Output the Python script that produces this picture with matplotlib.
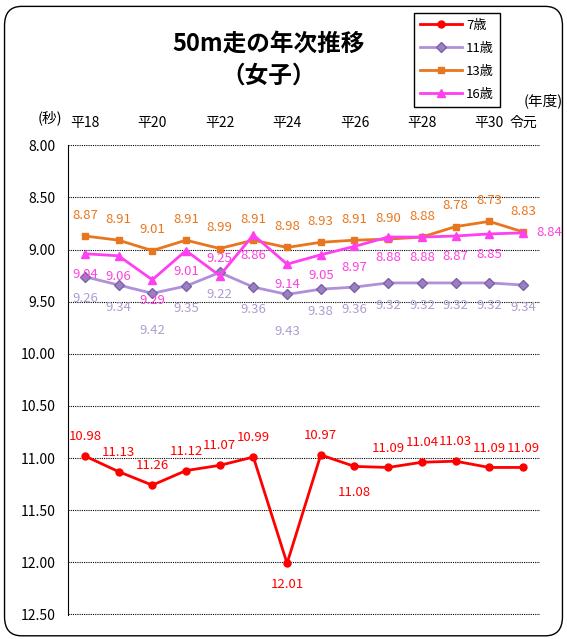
import matplotlib
matplotlib.use("Agg")
import matplotlib.pyplot as plt
from matplotlib.patches import FancyBboxPatch

plt.rcParams['font.family'] = ['Noto Sans CJK JP', 'DejaVu Sans']

years = ["平18", "平19", "平20", "平21", "平22", "平23", "平24", "平25",
         "平26", "平27", "平28", "平29", "平30", "令元"]
age7 = [10.98, 11.13, 11.26, 11.12, 11.07, 10.99, 12.01, 10.97, 11.08, 11.09, 11.04, 11.03, 11.09, 11.09]
age11 = [9.26, 9.34, 9.42, 9.35, 9.22, 9.36, 9.43, 9.38, 9.36, 9.32, 9.32, 9.32, 9.32, 9.34]
age13 = [8.87, 8.91, 9.01, 8.91, 8.99, 8.91, 8.98, 8.93, 8.91, 8.90, 8.88, 8.78, 8.73, 8.83]
age16 = [9.04, 9.06, 9.29, 9.01, 9.25, 8.86, 9.14, 9.05, 8.97, 8.88, 8.88, 8.87, 8.85, 8.84]
yticks = [8.0, 8.5, 9.0, 9.5, 10.0, 10.5, 11.0, 11.5, 12.0, 12.5]

x = list(range(len(years)))

fig = plt.figure(figsize=(5.67, 6.39), dpi=100)
ax = fig.add_axes([0.12, 0.0376, 0.832, 0.735])

ax.plot(x, age7, color="#FF0000", lw=2, marker="o", ms=5, label="7歳")
ax.plot(x, age11, color="#B090D8", lw=2, marker="D", ms=5,
        mfc="#9A80C0", mec="#7A62A8", label="11歳")
ax.plot(x, age13, color="#E8761E", lw=2, marker="s", ms=5, label="13歳")
ax.plot(x, age16, color="#FF40F0", lw=2, marker="^", ms=6, label="16歳")

# data labels (offsets in points)
def label(vals, color, offs):
    for i, v in enumerate(vals):
        dx, dy = offs.get(i, offs["d"])
        ax.annotate(f"{v:.2f}", (i, v), xytext=(dx, dy), textcoords="offset points",
                    ha="center", va="center", color=color, fontsize=9.5)

label(age13, "#E8761E", {"d": (0, 15)})
label(age16, "#FF40E0", {"d": (0, -15), 4: (0, 12), 13: (19, 0)})
label(age11, "#B09CD0", {"d": (0, -16), 2: (0, -27), 6: (0, -27)})
label(age7, "#FF0000", {"d": (0, 14), 6: (0, -15), 8: (0, -19)})

ax.set_ylim(12.505, 8.0)
ax.set_xlim(-0.5, 13.5)
ax.set_yticks(yticks)
ax.set_yticklabels([f"{t:.2f}" for t in yticks], fontsize=10)
ax.yaxis.grid(True, color="black", ls=(0, (1, 1)), lw=0.8)
ax.tick_params(axis="y", length=0, pad=9)

ax.xaxis.tick_top()
ax.set_xticks([0, 2, 4, 6, 8, 10, 12, 13])
ax.set_xticklabels([years[i] for i in [0, 2, 4, 6, 8, 10, 12, 13]], fontsize=10)
ax.tick_params(axis="x", length=0, pad=11)

for s in ["top", "right", "bottom"]:
    ax.spines[s].set_visible(False)
ax.spines["left"].set_color("black")

fig.text(0.088, 0.815, "(秒)", fontsize=10.5, ha="center", va="center")
fig.text(0.958, 0.843, "(年度)", fontsize=10.5, ha="center", va="center")

fig.text(0.473, 0.932, "50m走の年次推移", fontsize=17, fontweight="bold", ha="center", va="center")
fig.text(0.473, 0.882, "（女子）", fontsize=17, fontweight="bold", ha="center", va="center")

fig.legend(loc="upper left", bbox_to_anchor=(0.718, 0.99), fontsize=9.5,
           frameon=True, fancybox=False, edgecolor="black", framealpha=1,
           borderpad=0.45, labelspacing=0.75, handlelength=3.2, handletextpad=0.3)

fig.patches.append(FancyBboxPatch((0.008, 0.005), 0.984, 0.985, boxstyle="round,pad=0,rounding_size=0.03",
                                  transform=fig.transFigure, fill=False, ec="black", lw=1))

fig.savefig("out.png", dpi=100)
